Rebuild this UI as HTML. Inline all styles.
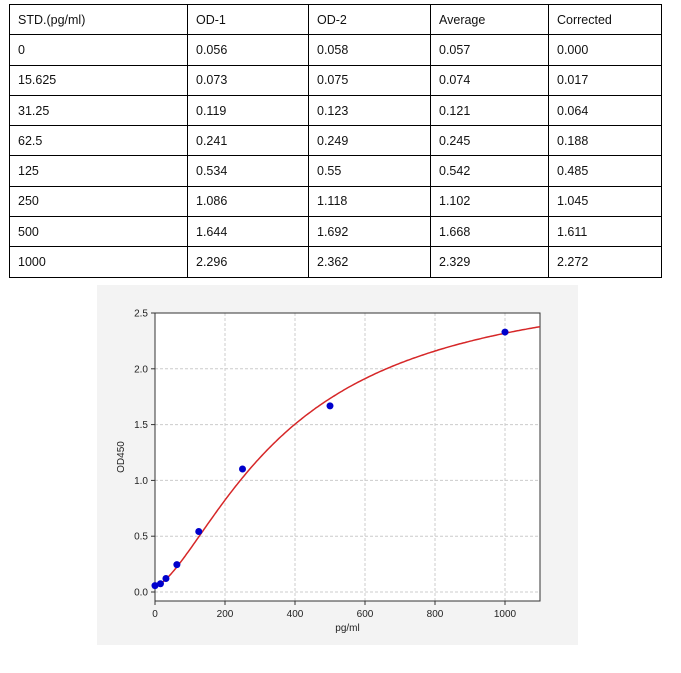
<!DOCTYPE html>
<html><head><meta charset="utf-8"><style>
body{margin:0;width:681px;height:673px;background:#fff;position:relative;overflow:hidden;font-family:"Liberation Sans",sans-serif}
table{position:absolute;left:9px;top:4px;border-collapse:collapse;font-size:12.5px;color:#111}
td{border:1px solid #000;height:30.3px;padding:0 0 0 8px;box-sizing:border-box;vertical-align:middle}
#chartbox{position:absolute;left:97px;top:285px;width:481px;height:360px;background:#f3f3f3}
</style></head><body>
<table>
<colgroup><col style="width:178px"><col style="width:121px"><col style="width:122px"><col style="width:118px"><col style="width:113px"></colgroup>
<tbody id="tb"></tbody></table>
<div id="chartbox"></div>
<svg id="chart" width="681" height="673" style="position:absolute;left:0;top:0" font-family="Liberation Sans, sans-serif"></svg>
<script>
const rows=[["STD.(pg/ml)","OD-1","OD-2","Average","Corrected"],["0","0.056","0.058","0.057","0.000"],["15.625","0.073","0.075","0.074","0.017"],["31.25","0.119","0.123","0.121","0.064"],["62.5","0.241","0.249","0.245","0.188"],["125","0.534","0.55","0.542","0.485"],["250","1.086","1.118","1.102","1.045"],["500","1.644","1.692","1.668","1.611"],["1000","2.296","2.362","2.329","2.272"]];
const tb=document.getElementById('tb');
rows.forEach((r,i)=>{const tr=document.createElement('tr');


r.forEach(c=>{const td=document.createElement('td');td.textContent=c;tr.appendChild(td);});tb.appendChild(tr);});

const concs=[0,15.625,31.25,62.5,125,250,500,1000];
const ods=[0.057,0.074,0.121,0.245,0.542,1.102,1.668,2.329];
const xTicks=[0,200,400,600,800,1000];
const yTicks=[0.0,0.5,1.0,1.5,2.0,2.5];
const fitA=0.05,fitB=1.5,fitC=380,fitD=2.85;
const L=155,R=540,T=313,B=601;
const X=v=>L+v*(R-L)/1100;
const Y=v=>592-v*(592-T)/2.5;
const NS='http://www.w3.org/2000/svg';const svg=document.getElementById('chart');
function mk(t,a,p){const e=document.createElementNS(NS,t);for(const k in a)e.setAttribute(k,a[k]);(p||svg).appendChild(e);return e;}
const bg=mk('rect',{x:L,y:T,width:R-L,height:B-T,fill:'#fff'});


xTicks.forEach(v=>{mk('line',{x1:X(v),x2:X(v),y1:T,y2:B,stroke:'#ccc','stroke-dasharray':'3,2'});
mk('line',{x1:X(v),x2:X(v),y1:B,y2:B+4,stroke:'#333'});
const t=mk('text',{x:X(v),y:B+16,'font-size':10,'text-anchor':'middle',fill:'#222'});t.textContent=v;

});
yTicks.forEach(v=>{mk('line',{x1:L,x2:R,y1:Y(v),y2:Y(v),stroke:'#ccc','stroke-dasharray':'3,2'});
mk('line',{x1:L-4,x2:L,y1:Y(v),y2:Y(v),stroke:'#333'});
const t=mk('text',{x:L-7,y:Y(v)+3.5,'font-size':10,'text-anchor':'end',fill:'#222'});t.textContent=v.toFixed(1);

});
mk('rect',{x:L,y:T,width:R-L,height:B-T,fill:'none',stroke:'#333','stroke-width':1});
let d='';for(let x=0;x<=1100;x+=5){const y=fitD+(fitA-fitD)/(1+Math.pow(x/fitC,fitB));d+=(x?'L':'M')+X(x).toFixed(1)+','+Y(y).toFixed(1);}
const c=mk('path',{d:d,fill:'none',stroke:'#d62728','stroke-width':1.5});


concs.forEach((v,i)=>{const p=mk('circle',{cx:X(v),cy:Y(ods[i]),r:3.5,fill:'#0000cc'});

});
const xl=mk('text',{x:(L+R)/2,y:B+30,'font-size':10,'text-anchor':'middle',fill:'#222'});xl.textContent='pg/ml';


const yl=mk('text',{x:0,y:0,'font-size':10,'text-anchor':'middle',fill:'#222',transform:`translate(124,${(T+B)/2}) rotate(-90)`});yl.textContent='OD450';


</script>
</body></html>
